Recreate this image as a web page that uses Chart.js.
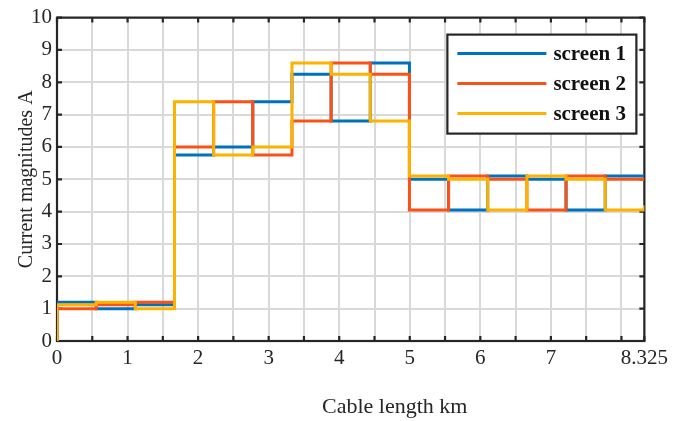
<!DOCTYPE html>
<html>
<head>
<meta charset="utf-8">
<script src="https://cdn.jsdelivr.net/npm/chart.js@4.4.1/dist/chart.umd.min.js"></script>
<style>
  html, body { margin: 0; padding: 0; background: #fff; }
  #wrap { width: 673px; height: 421px; }
</style>
</head>
<body>
<div id="wrap"><canvas id="c" width="673" height="421"></canvas></div>
<script>
// Segment start positions (km); first point is the origin, last is the cable end
const positions = [0, 0, 0.555, 1.11, 1.665, 2.22, 2.775, 3.33, 3.885, 4.44, 4.995, 5.55, 6.105, 6.66, 7.215, 7.77, 8.325];
const screen1 = [0, 1.2, 1.0, 1.12, 5.75, 6.0, 7.4, 8.25, 6.8, 8.6, 5.0, 4.05, 5.1, 5.0, 4.05, 5.1, 5.1];
const screen2 = [0, 1.0, 1.12, 1.2, 6.0, 7.4, 5.75, 6.8, 8.6, 8.25, 4.05, 5.1, 5.0, 4.05, 5.1, 5.0, 5.0];
const screen3 = [0, 1.12, 1.2, 1.0, 7.4, 5.75, 6.0, 8.6, 8.25, 6.8, 5.1, 5.0, 4.05, 5.1, 5.0, 4.05, 4.2];
const seriesNames = ['screen 1', 'screen 2', 'screen 3'];
const seriesColors = ['#0072BD', '#FA5216', '#FDB200'];
const xGridValues = [0, 0.5, 1, 1.5, 2, 2.5, 3, 3.5, 4, 4.5, 5, 5.5, 6, 6.5, 7, 7.5, 8, 8.325];
const xTickLabels = ['0', '1', '2', '3', '4', '5', '6', '7', '8.325'];
const xLabelValues = [0, 1, 2, 3, 4, 5, 6, 7, 8.325];
const yTickValues = [0, 1, 2, 3, 4, 5, 6, 7, 8, 9, 10];
const xTitle = 'Cable length km';
const yTitle = 'Current magnitudes A';

const FONT = "'Liberation Serif', 'Times New Roman', serif";
const TXT = '#262626';

function pts(ys) { return positions.map((x, i) => ({ x: x, y: ys[i] })); }

const framePlugin = {
  id: 'frame',
  beforeDatasetsDraw(chart) {
    const { ctx, chartArea: a, scales } = chart;
    ctx.save();
    ctx.strokeStyle = TXT;
    ctx.lineWidth = 2.2;
    ctx.strokeRect(a.left, a.top, a.right - a.left, a.bottom - a.top);
    const L = 5;
    ctx.beginPath();
    xGridValues.forEach(v => {
      const px = scales.x.getPixelForValue(v);
      ctx.moveTo(px, a.bottom); ctx.lineTo(px, a.bottom - L);
      ctx.moveTo(px, a.top); ctx.lineTo(px, a.top + L);
    });
    yTickValues.forEach(v => {
      const py = scales.y.getPixelForValue(v);
      ctx.moveTo(a.left, py); ctx.lineTo(a.left + L, py);
      ctx.moveTo(a.right, py); ctx.lineTo(a.right - L, py);
    });
    ctx.stroke();
    ctx.restore();
  },
  afterDraw(chart) {
    const { ctx, chartArea: a } = chart;
    ctx.save();
    // x axis title
    ctx.fillStyle = TXT;
    ctx.font = "22px " + FONT;
    ctx.textAlign = 'center';
    ctx.textBaseline = 'middle';
    ctx.fillText(xTitle, a.left + (a.right - a.left) * 0.575, 407);
    // legend
    const bx = a.right - 197, by = a.top + 17, bw = 189, bh = 99;
    ctx.fillStyle = '#fff';
    ctx.fillRect(bx, by, bw, bh);
    ctx.strokeStyle = TXT;
    ctx.lineWidth = 2.2;
    ctx.strokeRect(bx, by, bw, bh);
    chart.data.datasets.forEach((ds, i) => {
      const y = by + 19 + i * 30;
      ctx.strokeStyle = ds.borderColor;
      ctx.lineWidth = 3;
      ctx.beginPath();
      ctx.moveTo(bx + 10, y); ctx.lineTo(bx + 99, y);
      ctx.stroke();
      ctx.fillStyle = '#111';
      ctx.font = "bold 21px " + FONT;
      ctx.textAlign = 'left';
      ctx.textBaseline = 'middle';
      ctx.fillText(ds.label, bx + 106, y + 1);
    });
    ctx.restore();
  }
};

const mk = (i, ys, order) => ({
  label: seriesNames[i],
  data: pts(ys),
  borderColor: seriesColors[i],
  backgroundColor: seriesColors[i],
  borderWidth: 3,
  pointRadius: 0,
  stepped: 'before',
  tension: 0,
  fill: false,
  order: order
});

new Chart(document.getElementById('c'), {
  type: 'line',
  data: { datasets: [mk(0, screen1, 2), mk(1, screen2, 1), mk(2, screen3, 0)] },
  options: {
    responsive: false,
    animation: false,
    devicePixelRatio: 1,
    layout: { padding: { top: 17, right: 27, left: 0, bottom: 0 } },
    plugins: { legend: { display: false }, tooltip: { enabled: false } },
    scales: {
      x: {
        type: 'linear',
        min: 0, max: 8.325,
        afterBuildTicks(scale) { scale.ticks = xGridValues.map(v => ({ value: v })); },
        afterFit(scale) { scale.height = 80; },
        ticks: {
          autoSkip: false, maxRotation: 0, minRotation: 0,
          padding: 5,
          color: TXT,
          font: { family: FONT, size: 21 },
          callback(v) {
            const k = xLabelValues.findIndex(u => Math.abs(u - v) < 1e-6);
            return k >= 0 ? xTickLabels[k] : '';
          }
        },
        grid: { color: '#d9d9d9', lineWidth: 2, drawTicks: false },
        border: { display: false }
      },
      y: {
        min: 0, max: 10,
        afterBuildTicks(scale) { scale.ticks = yTickValues.map(v => ({ value: v })); },
        afterFit(scale) { scale.width = 57; },
        ticks: {
          padding: 5,
          color: TXT,
          font: { family: FONT, size: 21 },
          callback(v) { return String(v); }
        },
        grid: { color: '#d9d9d9', lineWidth: 2, drawTicks: false },
        border: { display: false },
        title: {
          display: true, text: yTitle, color: TXT,
          font: { family: FONT, size: 20 },
          padding: { top: 15, bottom: 0 }
        }
      }
    }
  },
  plugins: [framePlugin]
});
</script>
</body>
</html>
